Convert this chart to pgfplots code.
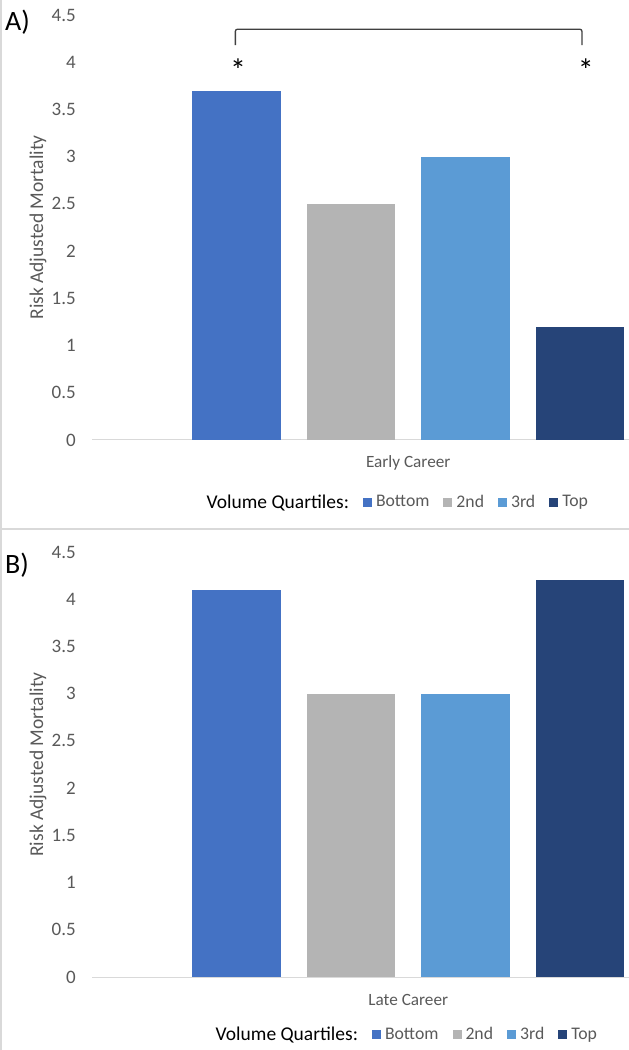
\documentclass[border=0pt]{standalone}
\usepackage{pgfplots}
\pgfplotsset{compat=1.18}
\usepackage{fontspec}
\setmainfont{Carlito}
\definecolor{cBottom}{HTML}{4472C4}
\definecolor{cSecond}{HTML}{B4B4B4}
\definecolor{cThird}{HTML}{5B9BD5}
\definecolor{cTop}{HTML}{264478}
\definecolor{txtgray}{HTML}{595959}
\definecolor{linegray}{HTML}{D9D9D9}
\definecolor{brk}{HTML}{404040}

\pgfplotsset{
 panel/.style={
  scale only axis, width=537bp, height=425bp,
  xmin=-0.262, xmax=4.428, ymin=0, ymax=4.5,
  ytick={0,0.5,1,1.5,2,2.5,3,3.5,4,4.5},
  xtick={2.5},
  major tick length=0,
  axis x line*=bottom, axis y line*=left,
  x axis line style={-, draw=linegray, line width=1bp},
  y axis line style={draw=none},
  /pgf/number format/assume math mode=true,
  tick label style={text=txtgray},
  yticklabel style={anchor=east, inner sep=0pt, xshift=-16bp, font=\fontsize{19bp}{21bp}\selectfont},
  xticklabel style={anchor=base, inner sep=0pt, yshift=-28bp, font=\fontsize{17.2bp}{19bp}\selectfont},
  every axis y label/.style={at={(axis description cs:-0.1006,0.5)}, rotate=90, anchor=center,
     font=\fontsize{19.5bp}{21bp}\selectfont, text=txtgray},
  ylabel={Risk Adjusted Mortality},
  clip=false,
  legend columns=-1,
  legend style={draw=none, fill=none, inner sep=0pt, outer sep=0pt, anchor=west,
     font=\fontsize{17.7bp}{20bp}\selectfont, text=txtgray,
     nodes={inner sep=0pt},
     /tikz/every even column/.append style={column sep=14bp},
     /tikz/every odd column/.append style={column sep=4bp}},
  legend image code/.code={\draw[#1, draw=none] (0bp,-4.5bp) rectangle (9bp,4.5bp);},
 },
 bars/.style={ybar, bar width=0.777, bar shift=0pt, draw=none},
}

\begin{document}
\begin{tikzpicture}
% frame lines
\draw[linegray, line width=1.5bp] (1bp,0bp) -- (1bp,1050bp);
\draw[linegray, line width=1.5bp] (0bp,521bp) -- (629bp,521bp);

% Panel A
\begin{axis}[panel, at={(92bp,610bp)}, anchor=south west,
  xticklabels={Early Career},
  legend style={at={(0.2061,-0.146)}}]
\addlegendimage{empty legend}
\addlegendentry{\fontsize{19.5bp}{22bp}\selectfont\color{black}Volume Quartiles:\hspace{5bp}}
\addplot[bars, fill=cBottom] coordinates {(1,3.7)};
\addlegendentry{Bottom}
\addplot[bars, fill=cSecond] coordinates {(2,2.5)};
\addlegendentry{2nd}
\addplot[bars, fill=cThird] coordinates {(3,3.0)};
\addlegendentry{3rd}
\addplot[bars, fill=cTop] coordinates {(4,1.2)};
\addlegendentry{Top}
\draw[brk, line width=1.3bp, rounded corners=2bp] (axis cs:0.99,4.18) -- (axis cs:0.99,4.349) -- (axis cs:4.017,4.349) -- (axis cs:4.017,4.18);
\node[anchor=base, inner sep=0pt, font=\fontsize{32bp}{34bp}\selectfont, text=black] at (axis cs:1.013,3.80) {*};
\node[anchor=base, inner sep=0pt, font=\fontsize{32bp}{34bp}\selectfont, text=black] at (axis cs:4.05,3.80) {*};
\end{axis}
\node[anchor=west, inner sep=0pt, font=\fontsize{28bp}{30bp}\selectfont] at (5bp,1028bp) {A)};

% Panel B
\begin{axis}[panel, at={(92bp,73bp)}, anchor=south west,
  xticklabels={Late Career},
  legend style={at={(0.2229,-0.135)}}]
\addlegendimage{empty legend}
\addlegendentry{\fontsize{19.5bp}{22bp}\selectfont\color{black}Volume Quartiles:\hspace{5bp}}
\addplot[bars, fill=cBottom] coordinates {(1,4.1)};
\addlegendentry{Bottom}
\addplot[bars, fill=cSecond] coordinates {(2,3.0)};
\addlegendentry{2nd}
\addplot[bars, fill=cThird] coordinates {(3,3.0)};
\addlegendentry{3rd}
\addplot[bars, fill=cTop] coordinates {(4,4.2)};
\addlegendentry{Top}
\end{axis}
\node[anchor=west, inner sep=0pt, font=\fontsize{28bp}{30bp}\selectfont] at (5bp,485bp) {B)};

\pgfresetboundingbox
\path (0bp,0bp) rectangle (629bp,1050bp);
\end{tikzpicture}
\end{document}
